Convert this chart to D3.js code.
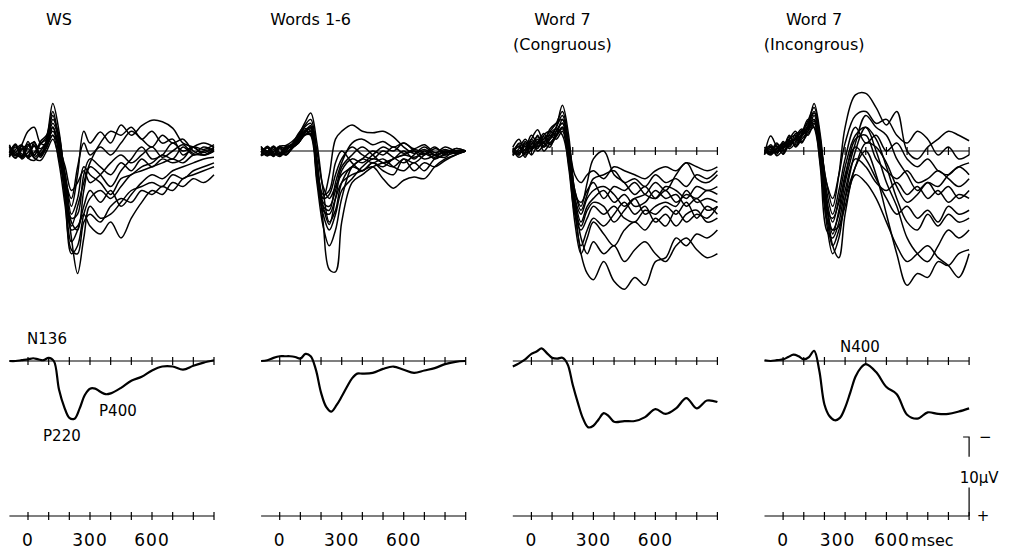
<!DOCTYPE html>
<html>
<head>
<meta charset="utf-8">
<script src="https://cdn.jsdelivr.net/npm/d3@7"></script>
<style>
  body { margin: 0; background: #fff; }
  text { font-family: "DejaVu Sans", sans-serif; fill: #000; }
</style>
</head>
<body>
<svg id="chart" width="1013" height="550"></svg>
<script>
// panel titles (second line optional)
var titles = [["WS"], ["Words 1-6"], ["Word 7", "(Congruous)"], ["Word 7", "(Incongrous)"]];

// time points (msec) for the single-subject traces, values in microvolts (positive = down)
var traceTimes = [-90, -60, -30, 0, 30, 60, 90, 120, 150, 180, 210, 240, 270, 300,
                  350, 400, 450, 500, 550, 600, 650, 700, 750, 800, 850, 900];

var wsTraces = [
  [0, 0.9, -0.6, 0.8, -0.7, 0.5, -1.5, -6.0, -2.5, 4.0, 11.0, 15.5, 11.0, 7.0, 8.5, 8.0, 6.5, 5.0, 4.5, 4.0, 4.5, 3.0, 3.5, 2.5, 2.0, 1.5],
  [0.5, -0.7, 0.8, -0.9, 0.6, -1.2, -2.0, -5.0, -1.0, 6.0, 13.0, 12.0, 8.0, 6.0, 5.0, 6.0, 4.5, 3.0, 2.5, 2.0, 1.5, 1.0, 1.5, 0.5, 0.5, 0],
  [-0.6, 0.6, -0.3, 0.9, 1.2, 0.3, -0.5, -3.0, 0.5, 5.0, 10.0, 9.5, 8.0, 9.5, 10.5, 9.0, 11.0, 8.5, 6.5, 5.0, 5.5, 4.0, 4.5, 3.5, 4.0, 3.0],
  [0.3, -0.9, 0.6, -1.2, 0.5, -0.9, -1.5, -3.5, -1.5, 3.0, 7.0, 3.0, -2.5, -1.0, -2.4, -1.0, -3.3, -2.0, -3.2, -3.9, -3.7, -2.9, -1.0, -0.5, 0.2, -0.5],
  [0.6, -0.2, -0.8, 0.9, -1.2, 0.5, -1.0, -4.0, -2.0, 4.0, 9.0, 10.0, 5.0, 2.0, 3.0, 4.5, 2.5, 1.0, -0.5, 1.0, 0.5, -1.0, 0.0, -0.5, 0.5, 0.0],
  [-0.2, 0.6, -0.8, -2.5, -3.0, -1.0, -0.8, -2.0, -0.5, 3.0, 8.0, 6.0, 2.0, 3.0, 4.0, 5.5, 3.5, 3.0, 2.0, 1.5, 0.5, 1.0, -0.5, 0.5, 0.0, -0.3],
  [-0.5, 0.2, 0.9, -0.3, 0.9, 1.2, 0.0, -1.5, 1.0, 5.0, 9.5, 7.0, 4.0, 1.5, -1.0, -2.5, -2.0, -3.0, -1.5, -2.5, -1.0, -1.5, 0.5, -0.5, -1.0, -0.5],
  [0.8, -0.5, 0.4, 0.6, -0.9, -0.3, -1.2, -3.0, 0.0, 6.0, 11.5, 10.0, 7.0, 5.0, 6.5, 5.0, 7.0, 5.5, 4.0, 3.0, 3.5, 2.5, 2.0, 1.5, 1.0, 0.8],
  [-0.5, 0.9, -0.2, -0.8, 0.8, 0.0, -1.0, -2.5, -0.5, 2.0, 5.0, 4.0, 2.5, 4.0, 3.0, 1.5, 0.5, 1.5, 0.5, -0.5, 0.8, 0.0, -0.8, 0.3, -0.5, 0.0],
  [0.2, -0.8, 1.0, 0.2, -0.6, 0.8, -0.5, -2.0, 1.5, 7.0, 12.5, 13.0, 9.0, 8.0, 9.0, 7.0, 6.0, 6.5, 5.0, 5.5, 4.5, 5.0, 3.5, 3.0, 2.5, 2.0],
  [0.5, 0.2, -0.7, 0.8, 0.2, -0.9, -1.8, -4.5, -1.0, 3.5, 6.0, 2.0, -1.0, 0.5, -0.5, 0.5, -1.0, -2.5, -1.5, -0.5, -2.0, -1.0, -1.5, 0.0, 0.5, -0.3],
  [-0.8, 0.5, 0.7, -0.6, -1.1, 0.6, -0.5, -3.0, -0.5, 4.5, 8.5, 8.0, 3.0, 1.0, 2.0, 3.0, 1.5, 2.5, 1.0, 2.0, 1.0, 1.5, 1.0, -0.5, -0.2, -0.8]
];

var wordsTraces = [
  [0, 0.6, -0.5, 0.5, -0.6, -0.5, -1.0, -2.0, -2.5, 2.0, 9.0, 15.0, 15.3, 9.0, 4.0, 3.0, 2.0, 1.5, 1.0, 0.5, 0.8, 0.3, 0.5, 0.2, 0.0, 0],
  [-0.5, 0.2, 0.6, -0.6, -0.7, -1.2, -2.0, -3.5, -4.8, -1.0, 5.0, 9.0, 7.5, 4.0, 2.0, 2.5, 1.5, 2.0, 1.0, 0.5, 0.0, 0.5, -0.3, 0.2, 0, 0],
  [0.5, -0.6, 0.2, 0.7, 0, -0.8, -1.5, -2.5, -3.0, 2.0, 6.0, 3.0, -1.5, -2.5, -3.3, -2.5, -2.3, -2.5, -1.8, -0.5, 0.3, -0.2, 0.5, 0.0, 0.3, 0],
  [0, 0.5, -0.6, 0.2, 0.5, -0.5, -1.2, -2.0, -2.0, 3.0, 7.5, 8.0, 6.0, 4.0, 3.0, 2.5, 2.0, 3.5, 4.7, 3.7, 3.3, 3.5, 2.0, 1.0, 0.5, 0],
  [0.6, -0.4, 0.4, -0.5, -0.3, -0.8, -1.8, -3.0, -3.5, 1.0, 6.0, 5.5, 3.0, 1.0, -0.5, 0.5, 1.0, 0.0, 0.8, 1.5, 0.5, -0.5, 0.5, 0.8, -0.3, 0],
  [-0.6, 0.4, -0.2, 0.6, -0.4, -0.6, -1.5, -2.8, -2.5, 3.0, 8.0, 10.0, 8.0, 5.0, 3.5, 2.0, 1.0, 1.5, 2.0, 1.0, 1.5, 0.5, -0.5, 0.5, 0.2, 0],
  [0.2, -0.5, 0.7, -0.3, 0.4, -0.4, -1.0, -2.2, -3.0, 2.5, 7.0, 9.3, 6.0, 2.5, 1.0, 1.5, 0.5, -0.5, 0.0, -1.0, 0.0, 1.0, 0.5, -0.5, 0.0, 0],
  [0.4, 0.1, -0.6, 0.5, -0.2, -0.7, -1.6, -2.6, -2.0, 4.0, 9.5, 12.0, 10.0, 6.0, 2.0, 1.0, 0.0, 0.5, -0.5, 0.3, -0.2, 0.3, 0.8, 0.0, 0.3, 0],
  [-0.3, 0.6, 0.1, -0.6, 0.5, -0.3, -1.2, -2.4, -3.2, 1.5, 5.5, 5.0, 1.5, 0.0, 1.5, 2.5, 1.5, 2.5, 3.0, 1.0, 2.5, 1.5, 2.0, 1.2, 0.5, 0],
  [0.1, -0.4, 0.4, 0.3, -0.5, -0.9, -2.2, -3.2, -4.0, 0.0, 4.5, 6.0, 4.5, 3.0, 2.0, 1.0, 1.5, 1.0, 2.0, 2.5, 1.5, 2.5, 1.0, 0.5, -0.3, 0],
  [0.6, 0.2, -0.4, 0.4, 0.2, -0.5, -1.4, -2.3, -2.8, 3.5, 7.0, 7.5, 4.0, 1.5, -1.0, -1.5, -0.8, -1.2, -0.5, -1.0, -0.3, -0.8, 0.2, -0.2, 0.2, 0],
  [-0.4, 0, 0.5, -0.4, 0.1, -0.4, -1.0, -2.0, -2.2, 2.0, 6.5, 7.0, 5.0, 2.0, 0.5, -0.5, 0.5, 1.5, 1.0, 0.0, 1.0, 0.0, 1.0, 0.3, 0.0, 0]
];

var congTraces = [
  [0.5, -1.0, -0.5, -2.0, -1.0, -1.5, -2.5, -3.5, -5.0, -1.0, 7.0, 13.0, 15.5, 16.3, 14.0, 16.5, 17.5, 16.0, 17.0, 14.0, 13.5, 11.0, 12.0, 10.5, 11.0, 10.0],
  [-0.3, 0.5, -1.2, 0.0, -2.0, -0.5, -1.5, -3.0, -5.8, -2.0, 6.0, 11.0, 13.0, 11.5, 13.0, 12.0, 14.0, 12.5, 11.5, 13.0, 14.0, 12.0, 11.0, 12.5, 13.5, 13.0],
  [0.2, -0.5, 0.8, -1.0, -0.3, -2.0, -2.5, -2.0, -3.0, -1.0, 5.0, 7.0, 4.0, 1.0, 0.0, 3.0, 4.0, 5.5, 4.5, 6.0, 5.0, 6.5, 5.5, 6.0, 5.0, 5.5],
  [0, 0.5, -1.0, -0.5, -1.5, 0.0, -1.0, -2.0, -4.0, -1.0, 3.0, 4.0, 3.0, 2.5, 3.5, 2.0, 2.5, 3.0, 3.5, 2.5, 2.0, 2.5, 1.5, 2.0, 2.5, 2.0],
  [-0.5, -1.5, 0.0, -1.5, -2.7, -1.0, -0.5, -2.5, -3.5, 0.0, 6.0, 9.0, 7.0, 6.0, 5.0, 6.5, 5.5, 7.0, 6.5, 5.0, 6.0, 5.5, 7.0, 6.0, 7.5, 7.0],
  [0.3, 0.0, -0.6, 0.5, -0.8, -1.5, -2.0, -1.5, -2.5, 2.0, 8.0, 10.0, 8.5, 7.0, 8.0, 7.0, 8.5, 9.0, 7.5, 8.0, 7.0, 8.0, 6.5, 8.5, 7.0, 8.0],
  [-0.2, 0.8, 0.2, -1.2, 0.0, -0.7, -1.8, -3.0, -4.5, -0.5, 7.5, 12.0, 10.0, 8.5, 9.5, 8.0, 6.5, 8.0, 7.0, 9.0, 8.0, 9.5, 8.0, 7.5, 9.0, 8.5],
  [0.6, -0.3, -1.5, -0.5, -1.0, -2.2, -1.0, -2.0, -3.0, 1.0, 5.5, 6.5, 5.0, 4.0, 6.0, 4.5, 5.0, 4.0, 5.5, 6.0, 4.5, 5.0, 6.0, 4.5, 5.0, 4.5],
  [0.0, -0.8, 0.3, -0.8, -1.8, -0.5, -2.2, -2.8, -2.0, 1.5, 9.0, 13.0, 11.0, 9.0, 10.5, 12.0, 10.0, 9.0, 10.0, 8.5, 9.5, 7.5, 9.0, 8.0, 8.5, 7.0],
  [-0.4, 0.2, -0.2, -1.5, -0.5, -1.2, -1.5, -2.5, -3.5, 0.5, 6.0, 8.0, 6.0, 5.0, 4.5, 5.5, 7.0, 6.0, 8.0, 7.0, 6.5, 7.0, 5.0, 6.5, 6.0, 6.5],
  [0.2, -0.6, 0.5, -0.2, -1.2, -1.8, -0.8, -1.8, -2.8, 1.0, 7.0, 9.5, 7.5, 6.5, 7.0, 9.0, 7.5, 6.0, 5.5, 4.0, 5.0, 3.0, 1.5, 3.5, 4.0, 3.0],
  [0.0, 0.3, -0.8, -0.3, -0.6, -1.0, -2.8, -3.5, -4.0, -0.5, 5.0, 7.5, 5.5, 3.5, 3.0, 2.5, 4.0, 3.5, 4.5, 3.0, 4.0, 3.5, 4.5, 3.0, 3.5, 2.5]
];

var incongTraces = [
  [0.3, -0.5, 0.2, -0.8, -1.0, -1.5, -2.5, -3.5, -5.0, -1.0, 4.0, 7.0, 3.0, -3.0, -7.1, -7.3, -5.5, -3.3, -5.0, 0.0, 1.0, -0.5, -1.5, -2.5, -2.0, -1.3],
  [-0.2, 0.3, -0.8, -0.5, -1.5, -2.0, -1.0, -3.0, -6.0, -2.0, 6.0, 12.0, 13.5, 8.0, 2.0, 0.0, 3.0, 8.0, 13.0, 17.0, 15.5, 16.0, 14.0, 14.5, 13.0, 12.5],
  [0.5, -1.9, -0.5, 0.3, -1.2, -0.8, -2.0, -3.0, -4.0, 0.0, 7.0, 10.0, 8.0, 4.0, -1.0, -4.5, -3.0, -2.0, 1.0, 3.0, 5.0, 4.0, 5.5, 4.5, 6.0, 5.0],
  [0.0, 0.5, -0.3, -1.0, -0.5, -1.8, -2.8, -2.0, -3.5, 1.0, 9.0, 13.0, 11.0, 6.0, 0.0, -3.0, -1.5, 2.0, 6.0, 9.0, 10.0, 8.0, 9.5, 8.0, 9.0, 8.5],
  [-0.3, -0.6, 0.6, -0.2, -2.0, -0.5, -1.5, -2.5, -4.5, -0.5, 6.0, 9.0, 6.0, 2.0, -2.0, -3.0, 0.0, 4.0, 7.0, 11.0, 13.0, 14.0, 12.0, 10.0, 11.0, 10.0],
  [0.2, 0.0, -1.0, 0.4, -0.8, -1.2, -2.2, -3.8, -5.5, -1.5, 5.0, 8.0, 5.0, 1.0, -3.0, -1.0, -2.0, 0.0, -1.0, 1.0, 2.0, 1.0, 2.5, 3.0, 2.0, 3.0],
  [-0.5, 0.2, 0.0, -0.6, -1.5, -2.5, -1.2, -2.2, -3.0, 2.0, 10.0, 11.0, 9.0, 5.0, 1.0, 2.0, 4.0, 5.0, 4.0, 5.5, 4.5, 6.0, 5.0, 6.5, 5.5, 6.0],
  [0.3, -0.4, 0.4, -1.2, -0.3, -1.0, -2.0, -3.2, -4.0, 0.5, 8.0, 12.0, 10.0, 7.0, 3.0, 4.0, 6.0, 9.0, 12.0, 14.0, 13.0, 12.0, 13.5, 14.5, 16.0, 13.0],
  [0.0, -0.2, -0.6, 0.0, -1.0, -1.6, -2.6, -2.8, -3.8, -0.8, 4.0, 6.0, 3.0, -1.0, -4.5, -5.0, -3.5, -4.0, -2.0, -1.0, -2.5, -1.5, 0.5, -0.5, 1.0, 0.5],
  [-0.2, 0.4, -0.4, -0.3, -1.8, -0.6, -1.8, -3.0, -4.8, -1.2, 6.5, 10.5, 7.5, 3.0, -0.5, 1.0, 3.5, 6.0, 8.0, 7.0, 8.5, 7.5, 9.0, 7.0, 8.0, 7.5],
  [0.4, -0.8, 0.2, -0.5, -0.6, -2.2, -2.4, -4.0, -3.0, 1.5, 7.5, 8.5, 6.5, 3.5, -1.5, -2.0, 1.0, 2.5, 3.5, 2.5, 4.0, 3.5, 2.5, 3.5, 4.5, 3.5],
  [-0.1, 0.1, -0.2, -0.9, -1.3, -1.4, -2.0, -2.5, -3.5, 0.5, 8.5, 10.0, 9.5, 6.0, 2.0, -1.0, -0.5, 1.5, 4.5, 6.5, 5.5, 4.0, 4.5, 3.0, 2.0, 1.5]
];

// grand average waveforms
var meanTimes = [-90, -60, -30, 0, 25, 50, 75, 100, 125, 150, 175, 200, 225, 250, 275, 300,
                 325, 350, 375, 400, 450, 500, 550, 600, 650, 700, 750, 800, 850, 900];
var wsMean     = [0, 0, -0.1, -0.2, -0.35, -0.2, -0.1, -0.4, 0.0, 3.6, 5.8, 7.2, 7.3, 6.0, 4.3, 3.5, 3.5, 3.9, 4.2, 4.1, 3.4, 2.5, 2.0, 1.2, 0.7, 0.7, 1.1, 0.6, 0.2, -0.1];
var wordsMean  = [0, -0.1, -0.4, -0.6, -0.6, -0.6, -0.5, -0.3, -0.9, -0.6, 1.1, 4.0, 5.8, 6.4, 5.6, 4.5, 3.3, 2.2, 1.6, 1.6, 1.5, 1.0, 0.7, 1.1, 1.5, 1.2, 0.9, 0.4, 0.1, 0];
var congMean   = [0.7, 0.3, -0.2, -0.9, -1.2, -1.6, -1.0, -0.4, -0.3, -0.4, 0.4, 3.0, 5.3, 7.3, 8.4, 8.2, 7.4, 6.6, 7.0, 7.7, 7.6, 7.6, 7.1, 6.1, 6.7, 6.0, 4.7, 6.0, 5.0, 5.2];
var incongMean = [-0.1, 0, -0.1, -0.2, -0.5, -0.8, -0.6, -0.2, -0.5, -1.3, 1.2, 5.5, 7.0, 7.5, 7.2, 5.9, 4.0, 2.0, 0.9, 0.4, 1.4, 3.3, 4.2, 6.8, 7.3, 6.5, 6.7, 6.7, 6.4, 6.0];

var tickTimes  = [0, 100, 200, 300, 400, 500, 600, 700, 800, 900];
var labelTimes = [0, 300, 600];

var panels = [
  {traces: wsTraces,     mean: wsMean,     topTicks: false},
  {traces: wordsTraces,  mean: wordsMean,  topTicks: false},
  {traces: congTraces,   mean: congMean,   topTicks: true},
  {traces: incongTraces, mean: incongMean, topTicks: true}
];

var svg = d3.select("#chart");

// layout
var panelStep = 251.7, firstZero = 28, pxPer900 = 186;
var topBase = 151, meanBase = 361, axisBase = 516;
var uvPx = 7.9;   // pixels per microvolt

var yTop  = d3.scaleLinear().domain([0, 10]).range([topBase, topBase + 10 * uvPx]);
var yMean = d3.scaleLinear().domain([0, 10]).range([meanBase, meanBase + 10 * uvPx]);

// baseline running from -90 to 900 ms, with optional 100 ms ticks crossing it
function tickedLine(parent, x, y, withTicks) {
  var g = parent.append("g");
  g.append("line")
    .attr("x1", x(-90)).attr("x2", x(900))
    .attr("y1", y).attr("y2", y)
    .attr("stroke", "#000").attr("stroke-width", 1.2);
  if (!withTicks) return g;
  g.selectAll("line.tk").data(tickTimes).enter().append("line")
    .attr("class", "tk")
    .attr("x1", function(d) { return x(d); }).attr("x2", function(d) { return x(d); })
    .attr("y1", y - 4).attr("y2", y + 4)
    .attr("stroke", "#000").attr("stroke-width", 1.2);
  return g;
}

panels.forEach(function(p, i) {
  var x0 = firstZero + i * panelStep;
  var x = d3.scaleLinear().domain([0, 900]).range([x0, x0 + pxPer900]);
  var g = svg.append("g").attr("class", "panel");

  // title
  titles[i].forEach(function(s, k) {
    g.append("text")
      .attr("x", x(150)).attr("y", 25 + k * 25)
      .attr("text-anchor", "middle")
      .attr("font-size", 16)
      .text(s);
  });

  // superimposed traces
  tickedLine(g, x, topBase, p.topTicks);
  var traceLine = d3.line()
    .x(function(d, j) { return x(traceTimes[j]); })
    .y(function(d) { return yTop(d); })
    .curve(d3.curveCatmullRom.alpha(0.5));
  g.selectAll("path.trace").data(p.traces).enter().append("path")
    .attr("class", "trace")
    .attr("d", traceLine)
    .attr("fill", "none").attr("stroke", "#000").attr("stroke-width", 1.5);

  // grand average
  tickedLine(g, x, meanBase, true);
  var meanLine = d3.line()
    .x(function(d, j) { return x(meanTimes[j]); })
    .y(function(d) { return yMean(d); })
    .curve(d3.curveCatmullRom.alpha(0.5));
  g.append("path").datum(p.mean)
    .attr("d", meanLine)
    .attr("fill", "none").attr("stroke", "#000").attr("stroke-width", 2.2);

  // time axis; last panel squeezes its labels left to leave room for "msec"
  tickedLine(g, x, axisBase, true);
  var last = (i === panels.length - 1);
  g.selectAll("text.tl").data(labelTimes).enter().append("text")
    .attr("class", "tl")
    .attr("x", function(d) { return x(d) - (last ? d / 40 : 0); })
    .attr("y", axisBase + 30)
    .attr("text-anchor", "middle")
    .attr("font-size", 17)
    .attr("letter-spacing", 1)
    .text(function(d) { return d; });

  p.x = x;
});

// component labels
var x1 = panels[0].x, x4 = panels[3].x;
function note(x, t, v, s) {
  svg.append("text").attr("x", x(t)).attr("y", yMean(v) + 6)
    .attr("text-anchor", "middle").attr("font-size", 15).text(s);
}
note(x1, 92, -2.9, "N136");
note(x1, 164, 9.4, "P220");
note(x1, 435, 6.2, "P400");
note(x4, 372, -1.9, "N400");

// msec unit
svg.append("text").attr("x", x4(600) + 4).attr("y", axisBase + 30)
  .attr("font-size", 16).text("msec");

// 10 uV calibration bar (negative up)
var yCal = d3.scaleLinear().domain([0, 10]).range([axisBase, axisBase - 10 * uvPx]);
var xc = x4(900);
svg.append("path")
  .attr("d", "M" + (xc - 6) + "," + yCal(10) + "H" + xc + "V" + yCal(7.5) +
             "M" + xc + "," + yCal(3.6) + "V" + yCal(0))
  .attr("fill", "none").attr("stroke", "#000").attr("stroke-width", 1.2);
svg.append("text").attr("x", xc + 10).attr("y", yCal(10) + 5).attr("font-size", 15).text("\u2212");
svg.append("text").attr("x", xc + 14).attr("y", yCal(0) + 5).attr("font-size", 15)
  .attr("text-anchor", "middle").style("fill", "#000").text("+");
svg.append("text").attr("x", xc + 10).attr("y", yCal(4.2)).attr("font-size", 15)
  .attr("text-anchor", "middle").text("10\u00b5V");
</script>
</body>
</html>
